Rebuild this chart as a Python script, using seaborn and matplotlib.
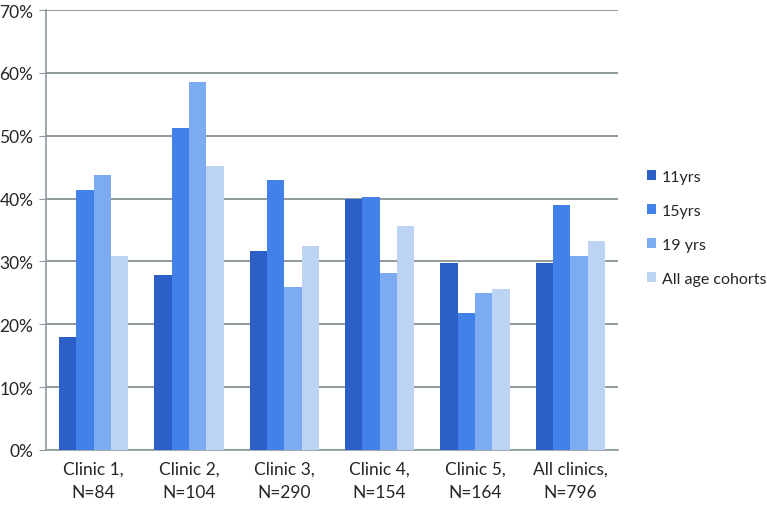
import pandas as pd
import matplotlib.pyplot as plt
import seaborn as sns
from matplotlib.ticker import PercentFormatter

# Dados (percentual)
clinicas = ["Clinic 1,\nN=84", "Clinic 2,\nN=104", "Clinic 3,\nN=290",
            "Clinic 4,\nN=154", "Clinic 5,\nN=164", "All clinics,\nN=796"]
coortes = ["11yrs", "15yrs", "19 yrs", "All age cohorts"]
v_11 = [17.9, 27.8, 31.7, 40.0, 29.8, 29.7]
v_15 = [41.4, 51.3, 42.9, 40.3, 21.8, 39.0]
v_19 = [43.7, 58.6, 25.9, 28.1, 25.0, 30.8]
v_all = [30.9, 45.2, 32.4, 35.7, 25.6, 33.2]
cores = ["#2C5FC7", "#4282E8", "#7CABF1", "#BDD3F3"]

linhas = []
for nome, vals in zip(coortes, [v_11, v_15, v_19, v_all]):
    for c, v in zip(clinicas, vals):
        linhas.append({"clinica": c, "coorte": nome, "valor": v})
df = pd.DataFrame(linhas)

sns.set_style("white")
plt.rcParams['font.family'] = ['Lato', 'DejaVu Sans']

fig = plt.figure(figsize=(7.67, 5.06), dpi=100)
ax = fig.add_axes([46 / 767, 55 / 506, 572 / 767, 440 / 506])

sns.barplot(data=df, x="clinica", y="valor", hue="coorte", palette=cores,
            width=0.73, gap=0, saturation=1, linewidth=0, ax=ax, zorder=3)

ax.set_ylim(0, 70)
ax.set_xlim(-0.5, 5.5)
ax.set_yticks(range(0, 71, 10))
ax.yaxis.set_major_formatter(PercentFormatter(decimals=0))
ax.yaxis.grid(True, color="#8E999E", linewidth=1.4, zorder=0)
ax.set_axisbelow(True)
ax.set_xlabel("")
ax.set_ylabel("")

# ticks entre categorias
ax.set_xticks([i + 0.5 for i in range(-1, 6)], minor=True)
ax.tick_params(axis="x", which="minor", length=5, color="#8E999E", width=1)
ax.tick_params(axis="x", which="major", length=0, labelsize=12.5, pad=8)
ax.tick_params(axis="y", length=5, color="#8E999E", labelsize=12.5, pad=4, left=True)
for t in ax.get_xticklabels():
    t.set_linespacing(1.5)

for s in ["top", "right"]:
    ax.spines[s].set_visible(False)
for s in ["left", "bottom"]:
    ax.spines[s].set_color("#8E999E")
    ax.spines[s].set_linewidth(1.2)

ax.legend(loc="center left", bbox_to_anchor=(1.05, 0.505), frameon=False,
          fontsize=11.5, handlelength=0.6, handleheight=0.6, labelspacing=1.25,
          handletextpad=0.35, borderaxespad=0, borderpad=0)

plt.savefig("out.png", dpi=100)
